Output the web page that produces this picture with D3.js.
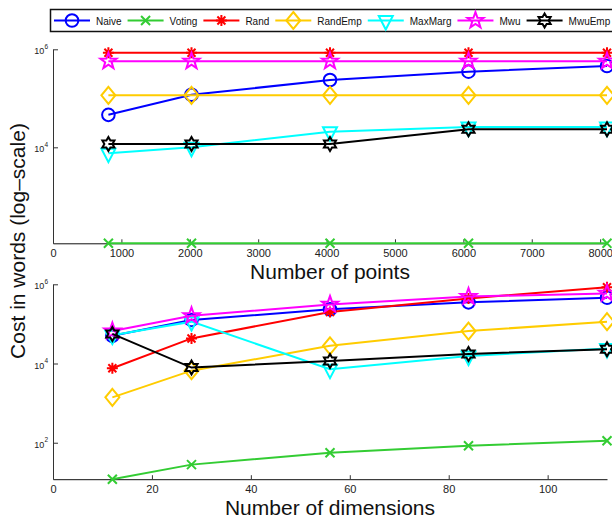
<!DOCTYPE html>
<html lang="en">
<head>
    <meta charset="UTF-8">
    <title>Cost in words</title>
    <style>
        body { margin: 0; background: #fff; }
        svg { display: block; font-family: "Liberation Sans", Arial, Helvetica, sans-serif; }
    </style>
</head>
<body>
    <script src="https://cdn.jsdelivr.net/npm/d3@7"></script>
    <script>
        // x values of the two panels
        var pointsX = [810, 2025, 4050, 6075, 8100];
        var dimsX = [12, 28, 56, 84, 112];

        // series names (legend order = draw order)
        var seriesNames = ['Naive', 'Voting', 'Rand', 'RandEmp', 'MaxMarg', 'Mwu', 'MwuEmp'];

        // top panel: cost vs number of points
        var naivePts   = [46000, 118000, 236000, 350000, 457000];
        var votingPts  = [110, 110, 110, 110, 110];
        var randPts    = [850000, 850000, 850000, 850000, 850000];
        var randEmpPts = [115000, 115000, 115000, 115000, 115000];
        var maxMargPts = [7600, 10000, 20800, 26000, 26000];
        var mwuPts     = [570000, 570000, 570000, 570000, 570000];
        var mwuEmpPts  = [11700, 11700, 11700, 23300, 23300];

        // bottom panel: cost vs number of dimensions
        var naiveDims   = [50000, 126000, 233000, 350000, 460000];
        var votingDims  = [12, 28, 56, 84, 112];
        var randDims    = [7600, 43000, 200000, 440000, 840000];
        var randEmpDims = [1400, 6600, 28000, 66000, 114000];
        var maxMargDims = [52000, 114000, 7200, 15500, 24000];
        var mwuDims     = [66000, 160000, 310000, 490000, 590000];
        var mwuEmpDims  = [56000, 7900, 11600, 17400, 23000];

        // ticks
        var xTicksPoints = [0, 1000, 2000, 3000, 4000, 5000, 6000, 7000, 8000];
        var xTicksDims = [0, 20, 40, 60, 80, 100];
        var yTicksTop = [1e4, 1e6];
        var yTicksBottom = [1e2, 1e4, 1e6];

        var colors = ['#0000ff', '#33cc33', '#ff0000', '#ffcc00', '#00ffff', '#ff00ff', '#000000'],
            markers = ['o', 'x', '*', 'd', 'v', 'p', 'h'],
            width = 612,
            height = 518;

        var svg = d3.select('body').append('svg')
            .attr('width', width)
            .attr('height', height);

        // marker shapes, roughly like matlab
        function starPath(n, ro, ri) {
            var pts = [];
            for (var i = 0; i < n * 2; i++) {
                var r = i % 2 === 0 ? ro : ri;
                var a = -Math.PI / 2 + i * Math.PI / n;
                pts.push([r * Math.cos(a), r * Math.sin(a)]);
            }
            return 'M' + pts.map(function(p) { return p[0].toFixed(2) + ',' + p[1].toFixed(2); }).join('L') + 'Z';
        }
        function markerPath(m) {
            switch (m) {
                case 'o': return 'M6.3,0A6.3,6.3 0 1,1 -6.3,0A6.3,6.3 0 1,1 6.3,0Z';
                case 'x': return 'M-4.5,-4.5L4.5,4.5M-4.5,4.5L4.5,-4.5';
                case '*': return 'M0,-5.5L0,5.5M-5.5,0L5.5,0M-4,-4L4,4M-4,4L4,-4';
                case 'd': return 'M0,-8.5L7,0L0,8.5L-7,0Z';
                case 'v': return 'M-7,-4.5L7,-4.5L0,9Z';
                case 'p': return starPath(5, 8.5, 3.4);
                case 'h': return starPath(6, 7, 4.04);
            }
        }

        function drawPanel(opt) {
            var x = d3.scaleLinear().domain(opt.xDomain).range([53, 607]);
            var y = d3.scaleLog().domain(opt.yDomain).range([opt.bottom, opt.top]);
            var g = svg.append('g');

            // axes
            var xAxis = d3.axisBottom(x).tickValues(opt.xTicks)
                .tickFormat(d3.format('d'))
                .tickSizeInner(-4).tickSizeOuter(0).tickPadding(6);
            var gx = g.append('g').attr('transform', 'translate(0,' + opt.bottom + ')').call(xAxis);
            gx.selectAll('text').attr('font-size', 11).attr('fill', '#222');
            gx.select('.domain').attr('stroke', '#111');
            gx.selectAll('.tick line').attr('stroke', '#333');

            var yAxis = d3.axisLeft(y).tickValues(opt.yTicks)
                .tickSizeInner(-5).tickSizeOuter(0).tickFormat('');
            var gy = g.append('g').attr('transform', 'translate(53,0)').call(yAxis);
            gy.select('.domain').attr('stroke', '#333');
            gy.selectAll('.tick line').attr('stroke', '#333');
            var lab = gy.selectAll('.tick').append('text')
                .attr('x', -5).attr('y', 4.5)
                .attr('text-anchor', 'end')
                .attr('fill', '#222')
                .attr('font-size', 9);
            lab.append('tspan').text('10');
            lab.append('tspan').attr('font-size', 6.5).attr('dy', -5.5)
                .text(function(d) { return Math.round(Math.log10(d)); });

            // x label
            g.append('text')
                .attr('x', 330).attr('y', opt.bottom + 36)
                .attr('text-anchor', 'middle')
                .attr('font-size', 21)
                .attr('fill', '#111')
                .text(opt.xLabel);

            // series
            var line = d3.line()
                .x(function(d) { return x(d[0]); })
                .y(function(d) { return y(d[1]); });
            opt.series.forEach(function(vals, i) {
                var pts = opt.xs.map(function(xv, j) { return [xv, vals[j]]; });
                g.append('path')
                    .attr('d', line(pts))
                    .attr('fill', 'none')
                    .attr('stroke', colors[i])
                    .attr('stroke-width', 2);
                g.selectAll(null)
                    .data(pts)
                    .enter()
                    .append('path')
                    .attr('transform', function(d) { return 'translate(' + x(d[0]) + ',' + y(d[1]) + ')'; })
                    .attr('d', markerPath(markers[i]))
                    .attr('fill', 'none')
                    .attr('stroke', colors[i])
                    .attr('stroke-width', 2)
                    .attr('stroke-linejoin', 'miter');
            });
        }

        drawPanel({
            xDomain: [0, 8100], yDomain: [110, 1e6], top: 49.3, bottom: 243.3,
            xTicks: xTicksPoints, yTicks: yTicksTop, xs: pointsX,
            xLabel: 'Number of points',
            series: [naivePts, votingPts, randPts, randEmpPts, maxMargPts, mwuPts, mwuEmpPts]
        });
        drawPanel({
            xDomain: [0, 112], yDomain: [12, 1e6], top: 284.3, bottom: 479.2,
            xTicks: xTicksDims, yTicks: yTicksBottom, xs: dimsX,
            xLabel: 'Number of dimensions',
            series: [naiveDims, votingDims, randDims, randEmpDims, maxMargDims, mwuDims, mwuEmpDims]
        });

        // shared y label
        svg.append('text')
            .attr('transform', 'translate(25,241) rotate(-90)')
            .attr('text-anchor', 'middle')
            .attr('font-size', 21)
            .attr('fill', '#111')
            .text('Cost in words (log\u2013scale)');

        // legend
        var leg = svg.append('g');
        leg.append('rect')
            .attr('x', 50.5).attr('y', 9.5)
            .attr('width', 570).attr('height', 22)
            .attr('fill', '#fff')
            .attr('stroke', '#111')
            .attr('stroke-width', 1.5);
        var cx = 54;
        seriesNames.forEach(function(name, i) {
            var e = leg.append('g').attr('transform', 'translate(' + cx + ',20.5)');
            e.append('line')
                .attr('x1', 0).attr('x2', 36)
                .attr('stroke', colors[i]).attr('stroke-width', 2);
            e.append('path')
                .attr('transform', 'translate(18,0)')
                .attr('d', markerPath(markers[i]))
                .attr('fill', 'none')
                .attr('stroke', colors[i])
                .attr('stroke-width', 2);
            var t = e.append('text')
                .attr('x', 42).attr('y', 4)
                .attr('font-size', 10)
                .attr('fill', '#111')
                .text(name);
            cx += 42 + t.node().getComputedTextLength() + 6;
        });
    </script>
</body>
</html>
